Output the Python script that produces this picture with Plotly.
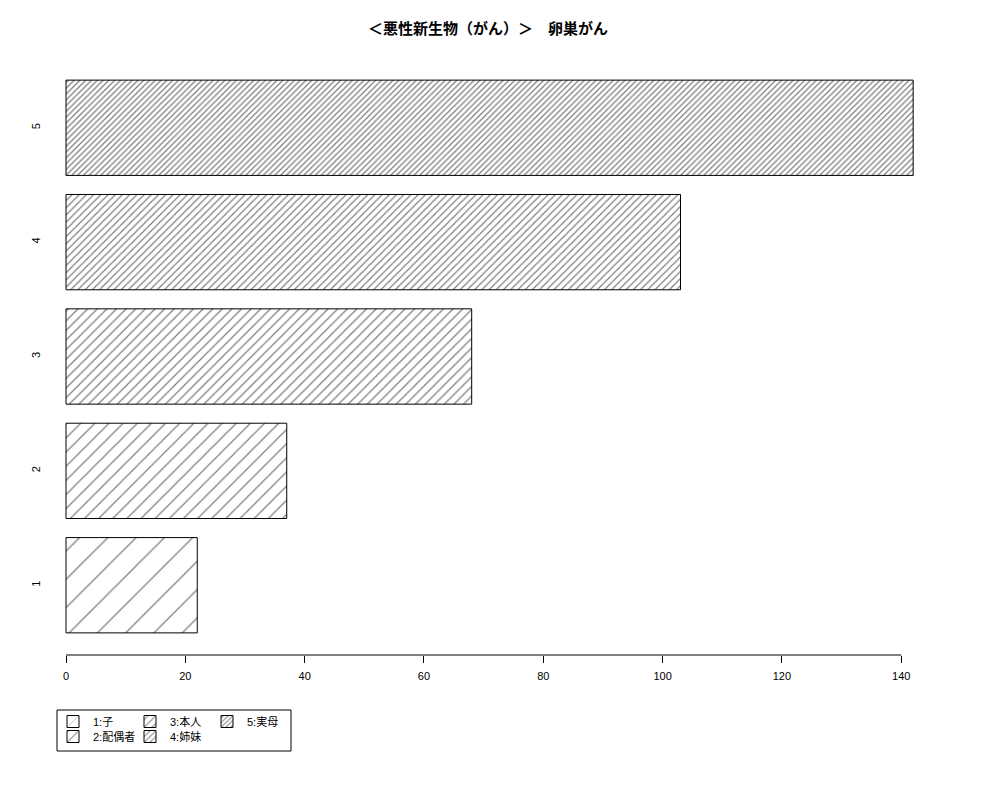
import plotly.graph_objects as go

# data
categories = ["1", "2", "3", "4", "5"]
values = [22, 37, 68, 103, 142]
names = ["1:子", "2:配偶者", "3:本人", "4:姉妹", "5:実母"]
x_ticks = [0, 20, 40, 60, 80, 100, 120, 140]

# hatch spacing (px) per bar, denser as it goes up
hatch_size = [20, 10, 6.8, 5.1, 4.1]

W, H = 1000, 800
OFF = 8  # page body margin
PL, PR, PT, PB = 50 - OFF, 947 - OFF, 58 - OFF, 655 - OFF  # plot area in figure px
ZERO = 66 - OFF  # where x=0 sits
PX_PER_UNIT = 5.966


def px_x(p):
    return (p - OFF - PL) / (PR - PL)


def px_y(p):
    return (PB - (p - OFF)) / (PB - PT)


FONT = "Liberation Sans, Noto Sans CJK JP, sans-serif"

fig = go.Figure()
for i, (cat, val, name) in enumerate(zip(categories, values, names)):
    fig.add_trace(
        go.Bar(
            x=[val],
            y=[cat],
            orientation="h",
            name=name,
            width=1 / 1.2,
            marker=dict(
                color="white",
                line=dict(color="black", width=1),
                pattern=dict(
                    shape="/",
                    size=hatch_size[i],
                    solidity=1.25 / hatch_size[i],
                    fgcolor="black",
                    bgcolor="white",
                ),
            ),
            legend="legend" if i % 2 == 0 else "legend2",
        )
    )

legend_common = dict(
    orientation="h",
    xref="container",
    yref="container",
    xanchor="left",
    yanchor="top",
    entrywidth=32,
    bgcolor="rgba(0,0,0,0)",
    font=dict(size=11),
)

fig.update_layout(
    width=W,
    height=H,
    barmode="overlay",
    plot_bgcolor="white",
    paper_bgcolor="white",
    margin=dict(l=PL, r=W - PR, t=PT, b=H - PB),
    font=dict(family=FONT, size=11, color="black"),
    title=dict(
        text="<b>＜悪性新生物（がん）＞　卵巣がん</b>",
        x=(488 - OFF) / W,
        xanchor="center",
        xref="container",
        y=1 - (29 - OFF) / H,
        yanchor="middle",
        font=dict(family="Noto Sans CJK JP", size=15, color="black"),
    ),
    xaxis=dict(
        range=[(PL - ZERO) / PX_PER_UNIT, (PR - ZERO) / PX_PER_UNIT],
        tickvals=x_ticks,
        ticks="outside",
        ticklen=7,
        tickcolor="black",
        ticklabelstandoff=4,
        showgrid=False,
        zeroline=False,
        showline=False,
        tickfont=dict(size=11),
    ),
    yaxis=dict(
        type="category",
        categoryorder="array",
        categoryarray=categories,
        range=[-0.61, 4.61],
        showgrid=False,
        zeroline=False,
        showline=False,
        ticks="",
        tickangle=-90,
        ticklabelstandoff=7,
        tickfont=dict(size=11),
    ),
    legend=dict(legend_common, x=45 / W, y=1 - 699 / H),
    legend2=dict(legend_common, x=45 / W, y=1 - 714 / H),
    showlegend=True,
)

# axis line only spans first to last tick, like base R
fig.add_shape(
    type="line",
    xref="x",
    yref="paper",
    x0=x_ticks[0],
    x1=x_ticks[-1],
    y0=0,
    y1=0,
    line=dict(color="black", width=1),
)
# legend frame
fig.add_shape(
    type="rect",
    xref="paper",
    yref="paper",
    x0=px_x(57),
    x1=px_x(291),
    y0=px_y(710),
    y1=px_y(751),
    line=dict(color="black", width=1),
)

fig.write_html("out.html")
